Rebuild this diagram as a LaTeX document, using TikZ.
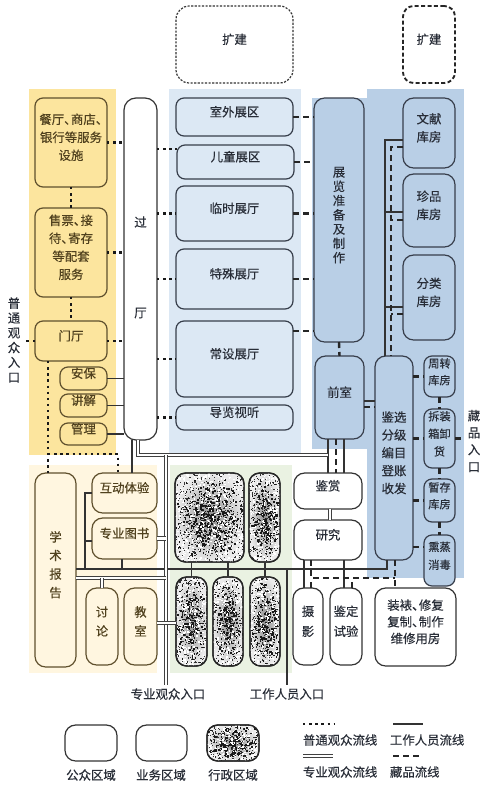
\documentclass[tikz,border=0pt]{standalone}
\usepackage{fontspec}
\setmainfont{Noto Sans CJK SC}[FakeBold=0.35]
\usetikzlibrary{fit,calc}
\definecolor{yel}{RGB}{252,229,158}
\definecolor{crm}{RGB}{255,246,224}
\definecolor{lblue}{RGB}{220,232,244}
\definecolor{mblue}{RGB}{185,207,230}
\definecolor{lgreen}{RGB}{234,242,226}
\definecolor{ybord}{RGB}{95,80,45}
\definecolor{ytxt}{RGB}{80,65,30}
\definecolor{bord}{RGB}{55,62,75}
\definecolor{txt}{RGB}{40,45,55}
\newcommand\dn{\makebox[0.55em][l]{、}}
% speckled texture for administration boxes
\newcommand\speckle[4]{%
  \begin{scope}
    \clip[rounded corners=8pt] (#1.north west) rectangle (#1.south east);
    \foreach \k in {1,...,#4}{%
      \pgfmathsetmacro\ux{#2*rand}\pgfmathsetmacro\uy{#3*rand}%
      \fill[white] ([shift={(\ux,\uy)}]#1.center) rectangle ++(1.5,1.5);
      \pgfmathsetmacro\vx{#2*rand}\pgfmathsetmacro\vy{#3*rand}%
      \fill[black!80] ([shift={(\vx,\vy)}]#1.center) rectangle ++(1.1,1.1);
      \pgfmathsetmacro\wx{#2*(rand+rand)/2}\pgfmathsetmacro\wy{#3*(rand+rand)/2}%
      \fill[black!90] ([shift={(\wx,\wy)}]#1.center) rectangle ++(1.5,1.5);
    }%
  \end{scope}
  \draw[black!85, line width=1pt, rounded corners=8pt] (#1.north west) rectangle (#1.south east);
}
\begin{document}
\begin{tikzpicture}[x=0.75pt,y=-0.75pt,
  font=\fontsize{9.3pt}{13.5pt}\selectfont,
  bx/.style={draw=bord, line width=0.9pt, rounded corners=6pt, inner sep=0pt, outer sep=0pt, align=center, text=txt},
  pubY/.style={bx, fill=yel, draw=ybord, text=ytxt},
  exh/.style={bx, fill=lblue},
  biz/.style={bx, fill=mblue},
  sbiz/.style={bx, fill=mblue, font=\fontsize{8.4pt}{12.6pt}\selectfont},
  crbox/.style={bx, fill=crm, draw=ybord, text=ytxt},
  wbox/.style={bx, fill=white, draw=black!80},
  adm/.style={bx, draw=black!85, line width=1pt, inner color=black!45, outer color=black!8},
  ext1/.style={bx, draw=black!80, dash pattern=on 1.6pt off 1.1pt, line width=0.9pt, rounded corners=10pt},
  ext2/.style={bx, draw=black!85, dash pattern=on 3pt off 1.8pt, line width=1.4pt, rounded corners=8pt},
  vt/.style={align=center, inner sep=2pt, text=txt},
  lab/.style={inner sep=2pt, text=txt},
  pv/.style={draw=black!90, line width=1.8pt, dash pattern=on 1.8pt off 2.8pt},
  st/.style={draw=black!80, line width=1pt},
  pro/.style={draw=black!75, line width=0.7pt, double=white, double distance=2pt},
  cp/.style={draw=black!85, line width=1.8pt, dash pattern=on 4.5pt off 3pt},
]
\useasboundingbox (0,0) rectangle (484,789);
\fill[white] (0,0) rectangle (484,789);
\pgfmathsetseed{4242}
% zone backgrounds
\fill[yel] (29,89) rectangle (116,455);
\fill[lblue] (169,89) rectangle (301,453);
\fill[mblue] (367,89) rectangle (464,578);
\fill[mblue] (312,98) rectangle (367,449);
\fill[crm] (29,465) rectangle (157,673);
\fill[lgreen] (170,465) rectangle (292,673);

% extension boxes
\node[ext1, fit={(176,6)(293,83)}] (kj1) {扩建};
\node[ext2, fit={(403,6)(455,83)}] (kj2) {扩建};

% public (yellow)
\node[pubY, fit={(35,98)(107,187)}] (ct) {餐厅\dn 商店\dn\\银行等服务\\设施};
\node[pubY, fit={(35,208)(107,297)}] (sp) {售票\dn 接\\待\dn 寄存\\等配套\\服务};
\node[pubY, fit={(35,321)(107,361)}] (mt) {门厅};
\node[pubY, fit={(60,367)(107,390)}] (ab) {安保};
\node[pubY, fit={(60,394)(107,417)}] (jj) {讲解};
\node[pubY, fit={(60,423)(107,445)}] (gl) {管理};

% hall
\node[bx, fill=white, draw=black!80, rounded corners=9pt, fit={(124,98)(157,440)}] (gt) {};
\node[lab] (gtA) at (140.5,222) {过};
\node[lab] (gtB) at (140.5,313) {厅};

% exhibition
\node[exh, fit={(176,98)(293,136)}] (sw) {室外展区};
\node[exh, fit={(177,145)(294,179)}] (et) {儿童展区};
\node[exh, fit={(176,186)(293,241)}] (ls) {临时展厅};
\node[exh, fit={(176,249)(293,309)}] (ts) {特殊展厅};
\node[exh, fit={(176,321)(293,397)}] (cs) {常设展厅};
\node[exh, fit={(176,405)(293,430)}] (dl) {导览视听};

% business (blue)
\node[biz, rounded corners=8pt, fit={(314,98)(364,342)}, font=\fontsize{9.3pt}{10.7pt}\selectfont] (zl) {展\\览\\准\\备\\及\\制\\作};
\node[biz, rounded corners=8pt, fit={(315,356)(364,439)}] (qs) {前室};
\node[biz, rounded corners=8pt, fit={(403,98)(455,168)}] (wx) {文献\\库房};
\node[biz, rounded corners=8pt, fit={(403,174)(455,247)}] (zp) {珍品\\库房};
\node[biz, rounded corners=8pt, fit={(403,255)(455,340)}] (fl) {分类\\库房};
\node[biz, rounded corners=8pt, fit={(375,356)(413,560)}, font=\fontsize{9.3pt}{13.4pt}\selectfont] (jx) {鉴选\\分级\\编目\\登账\\收发};
\node[sbiz, fit={(424,356)(455,397)}] (zz) {周转\\库房};
\node[sbiz, fit={(424,409)(455,468)}, font=\fontsize{8.4pt}{13.2pt}\selectfont] (cz) {拆装\\箱卸\\货};
\node[sbiz, fit={(424,479)(455,522)}] (zc) {暂存\\库房};
\node[sbiz, fit={(424,535)(455,586)}, font=\fontsize{8.4pt}{13.5pt}\selectfont] (xz) {熏蒸\\消毒};

% lower public (cream)
\node[crbox, rounded corners=8pt, fit={(35,473)(76,667)}, font=\fontsize{9.3pt}{13.9pt}\selectfont] (xs) {学\\术\\报\\告};
\node[crbox, rounded corners=8pt, fit={(92,473)(157,513)}] (hd) {互动体验};
\node[crbox, rounded corners=8pt, fit={(92,518)(157,559)}] (tsg) {专业图书};
\node[crbox, rounded corners=8pt, fit={(86,588)(118,665)}, font=\fontsize{9.3pt}{14.3pt}\selectfont] (tl) {讨\\论};
\node[crbox, rounded corners=8pt, fit={(124,588)(157,665)}, font=\fontsize{9.3pt}{14.3pt}\selectfont] (js) {教\\室};

% administration (speckled)
\node[adm, rounded corners=8pt, fit={(175,473)(244,562)}] (ad1) {};
\node[adm, rounded corners=8pt, fit={(249,473)(280,562)}] (ad2) {};
\node[adm, rounded corners=8pt, fit={(176,577)(207,666)}] (ad3) {};
\node[adm, rounded corners=8pt, fit={(213,577)(243,666)}] (ad4) {};
\node[adm, rounded corners=8pt, fit={(250,577)(280,666)}] (ad5) {};
\speckle{ad1}{35}{45}{520}
\speckle{ad2}{16}{45}{240}
\speckle{ad3}{16}{45}{240}
\speckle{ad4}{16}{45}{240}
\speckle{ad5}{16}{45}{240}

% lower business (white)
\node[wbox, rounded corners=8pt, fit={(294,473)(362,509)}] (jsh) {鉴赏};
\node[wbox, rounded corners=8pt, fit={(294,520)(362,560)}] (yj) {研究};
\node[wbox, rounded corners=8pt, fit={(293,588)(323,665)}, font=\fontsize{9.3pt}{15pt}\selectfont] (sy) {摄\\影};
\node[wbox, rounded corners=8pt, fit={(330,588)(362,665)}, font=\fontsize{9.3pt}{15pt}\selectfont] (jd) {鉴定\\试验};
\node[wbox, rounded corners=8pt, fit={(375,588)(456,666)}, font=\fontsize{9.3pt}{12.5pt}\selectfont] (zb) {装裱\dn 修复\\复制\dn 制作\\维修用房};

% entrance labels
\node[vt, font=\fontsize{9.3pt}{11.1pt}\selectfont] (ptrk) at (14,340) {普\\通\\观\\众\\入\\口};
\node[vt, font=\fontsize{9.3pt}{12.75pt}\selectfont] (cprk) at (474,441) {藏\\品\\入\\口};
\node[lab] (zyrk) at (168,694) {专业观众入口};
\node[lab] (gzrk) at (287,694) {工作人员入口};

% junction coordinates
\coordinate (pvj) at (48,454);
\coordinate (pj) at (328,455);
\coordinate (tk) at (166,455);
\coordinate (sj) at (85,569);
\coordinate (ej) at (287,569);
\coordinate (cj) at (395,578);

% ordinary visitor flow (dotted)
\draw[pv] (ct.east) -- (ct.east -| gt.west);
\draw[pv] (sp.east) -- (sp.east -| gt.west);
\draw[pv] (mt.east) -- (mt.east -| gt.west);
\draw[pv] (ct.south) -- (sp.north);
\draw[pv] (sp.south) -- (mt.north);
\draw[pv] (mt.west) -- (mt.west -| ptrk.east);
\draw[pv] (gt.east |- 0,149) -- (et.west |- 0,149);
\draw[pv] (gt.east |- ls.west) -- (ls.west);
\draw[pv] (gt.east |- ts.west) -- (ts.west);
\draw[pv] (gt.east |- cs.west) -- (cs.west);
\draw[pv] (gt.east |- dl.west) -- (dl.west);
\draw[pv] (mt.south -| pvj) -- (xs.north -| pvj);
\draw[pv] (pvj) -| (hd.north -| 118,0);

% staff flow (solid)
\draw[st] (ab.east) -- (ab.east -| gt.west);
\draw[st] (jj.east) -- (jj.east -| gt.west);
\draw[st] (gl.east) -- (gl.east -| gt.west);
\draw[st] (gt.south -| 132,0) -- (hd.north -| 132,0);
\draw[st] (wx.west |- 0,140) -| (jx.north -| 385,0);
\draw[st] (zp.west |- 0,212) -- ++(-18,0);
\draw[st] (fl.west |- 0,307) -- ++(-18,0);
\draw[st] (qs.east |- 0,401) -- (jx.west |- 0,401);
\draw[st] (qs.south -| pj) -- (jsh.north -| pj);
\draw[st] (qs.south -| 344,0) -- (jsh.north -| 344,0);
\draw[st] (xs.east |- sj) -| (jx.south -| 387,0);
\draw[st] (hd.west) -| (sj);
\draw[st] (tsg.west |- 0,541) -- (sj |- 0,541);
\draw[st] (tsg.south -| 122,0) -- (sj -| 122,0);
\draw[st] (ad3.north) -- (ad3.north |- ad1.south);
\draw[st] (ad4.north) -- (ad4.north |- ad1.south);
\draw[st] (ad5.north) -- (ad5.north |- ad2.south);
\draw[st] (yj.south -| 304,0) -- (sy.north -| 304,0);
\draw[st] (yj.south -| 344,0) -- (jd.north -| 344,0);
\draw[st] (ej) -- (gzrk.north);

% professional visitor flow (double)
\draw[pro] (gt.south -| 138,0) |- (pj);
\draw[pro] (tk) -- (zyrk.north -| tk);
\draw[pro] (tsg.east) -- (tsg.east -| tk);
\draw[pro] (js.east |- 0,623) -- (ad3.west |- 0,623);
\draw[pro] (xs.east |- 0,578) -- (tk |- 0,578);
\draw[pro] (tl.north) -- (tl.north |- 0,578);
\draw[pro] (jsh.south -| 330,0) -- (yj.north -| 330,0);

% collection flow (thick dashed)
\draw[cp] (sw.east) -- (sw.east -| zl.west);
\draw[cp] (et.east) -- (et.east -| zl.west);
\draw[cp] (ls.east) -- (ls.east -| zl.west);
\draw[cp] (ts.east) -- (ts.east -| zl.west);
\draw[cp] (cs.east |- 0,331) -- (zl.west |- 0,331);
\draw[cp] (zl.south) -- (qs.north);
\draw[cp] (qs.east |- 0,407) -- (jx.west |- 0,407);
\draw[cp] (qs.south -| 336,0) -- (jsh.north -| 336,0);
\draw[cp] (wx.west |- 0,147) -| (jx.north -| 391,0);
\draw[cp] (zp.west |- 0,220) -- ++(-12,0);
\draw[cp] (fl.west |- 0,314) -- ++(-12,0);
\draw[cp] (jx.east |- zz.west) -- (zz.west);
\draw[cp] (jx.east |- cz.west) -- (cz.west);
\draw[cp] (jx.east |- zc.west) -- (zc.west);
\draw[cp] (jx.east |- 0,547) -- (xz.west |- 0,547);
\draw[cp] (zz.south) -- (cz.north);
\draw[cp] (cz.south) -- (zc.north);
\draw[cp] (zc.south) -- (xz.north);
\draw[cp] (cz.east) -- (cz.east -| cprk.west);
\draw[cp] (yj.south -| 311,0) |- (cj);
\draw[cp] (jx.south -| cj) -- (zb.north -| cj);
\draw[cp] (sy.north -| 311,0) -- (cj -| 311,0);
\draw[cp] (jd.north -| 352,0) -- (cj -| 352,0);

% legend
\node[wbox, rounded corners=8pt, fit={(65,725)(117,761)}] (lg1) {};
\node[wbox, rounded corners=8pt, fit={(136,725)(187,761)}] (lg2) {};
\node[adm, rounded corners=8pt, fit={(207,725)(259,761)}] (lg3) {};
\speckle{lg3}{26}{18}{200}
\node[lab] (lg1t) at (91,775) {公众区域};
\node[lab] (lg2t) at (161,775) {业务区域};
\node[lab] (lg3t) at (233,775) {行政区域};
\coordinate (la1) at (303,724); \coordinate (la2) at (335,724);
\coordinate (lb1) at (393,724); \coordinate (lb2) at (423,724);
\coordinate (lc1) at (303,756); \coordinate (lc2) at (333,756);
\coordinate (ld1) at (393,756); \coordinate (ld2) at (423,756);
\draw[pv] (la1) -- (la2);
\draw[st] (lb1) -- (lb2);
\draw[pro] (lc1) -- (lc2);
\draw[cp] (ld1) -- (ld2);
\node[lab, anchor=west] (lat) at (300,740) {普通观众流线};
\node[lab, anchor=west] (lbt) at (387,740) {工作人员流线};
\node[lab, anchor=west] (lct) at (300,772) {专业观众流线};
\node[lab, anchor=west] (ldt) at (387,772) {藏品流线};
\end{tikzpicture}
\end{document}
